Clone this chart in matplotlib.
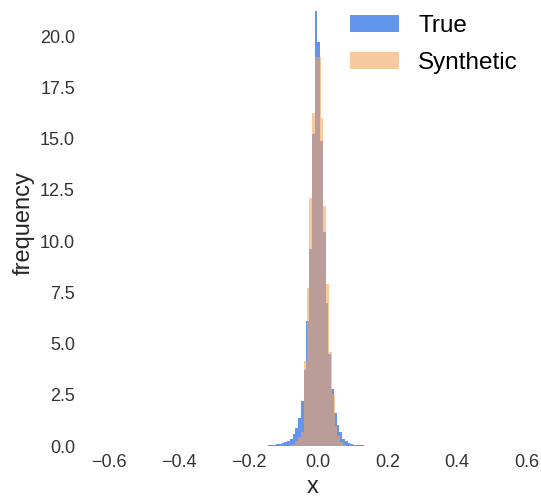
import numpy as np
import matplotlib
matplotlib.use("Agg")
import matplotlib.pyplot as plt

plt.rcParams['font.family'] = ['Liberation Sans', 'DejaVu Sans']

# density per bin
true_range = (-0.1522, 0.1403)
true_density = [0.02, 0.03, 0.04, 0.05, 0.08, 0.10, 0.13, 0.18, 0.25, 0.33,
                0.59, 0.86, 1.35, 2.2, 3.7, 6.1, 9.6, 15.2, 21.2, 19.7,
                14.9, 10.45, 7.0, 4.5, 2.77, 1.62, 1.02, 0.70, 0.33, 0.26,
                0.16, 0.10, 0.06, 0.05, 0.03, 0.03, 0.02]

synth_range = (-0.0814, 0.0796)
synth_density = [0.03, 0.1, 0.22, 0.45, 0.7, 4.15, 7.7, 12.1, 16.26, 19.0,
                 19.0, 16.0, 11.7, 7.9, 4.6, 2.54, 1.0, 0.5, 0.2, 0.05]

xticks = [-0.6, -0.4, -0.2, 0.0, 0.2, 0.4, 0.6]
yticks = [0.0, 2.5, 5.0, 7.5, 10.0, 12.5, 15.0, 17.5, 20.0]

W, H = 541, 498
fig = plt.figure(figsize=(W / 100, H / 100), dpi=100)
ax = fig.add_axes([86 / W, (H - 446) / H, (540 - 86) / W, 446 / H])

true_edges = np.linspace(true_range[0], true_range[1], len(true_density) + 1)
synth_edges = np.linspace(synth_range[0], synth_range[1], len(synth_density) + 1)

ax.hist(true_edges[:-1], bins=true_edges, weights=true_density,
        color='cornflowerblue', label='True')
ax.hist(synth_edges[:-1], bins=synth_edges, weights=synth_density,
        color='sandybrown', alpha=0.6, label='Synthetic')

ax.set_xlim(-0.667, 0.638)
ax.set_ylim(0, 21.76)
ax.set_xticks(xticks)
ax.set_yticks(yticks)
ax.set_xticklabels([f"{t:.1f}".replace('-', '\u2212') for t in xticks])
ax.set_yticklabels([f"{t:.1f}" for t in yticks])

for s in ax.spines.values():
    s.set_visible(False)
ax.tick_params(length=0, labelsize=13, colors='.2')
ax.tick_params(axis='x', pad=6)
ax.tick_params(axis='y', pad=8)

ax.set_xlabel('x', fontsize=17, color='.15', labelpad=3)
ax.set_ylabel('frequency', fontsize=17, color='.15', labelpad=4)

ax.legend(loc='upper right', frameon=False, fontsize=17.5,
          labelspacing=0.62, bbox_to_anchor=(1.0, 1.015))

fig.savefig('out.png', dpi=100)
